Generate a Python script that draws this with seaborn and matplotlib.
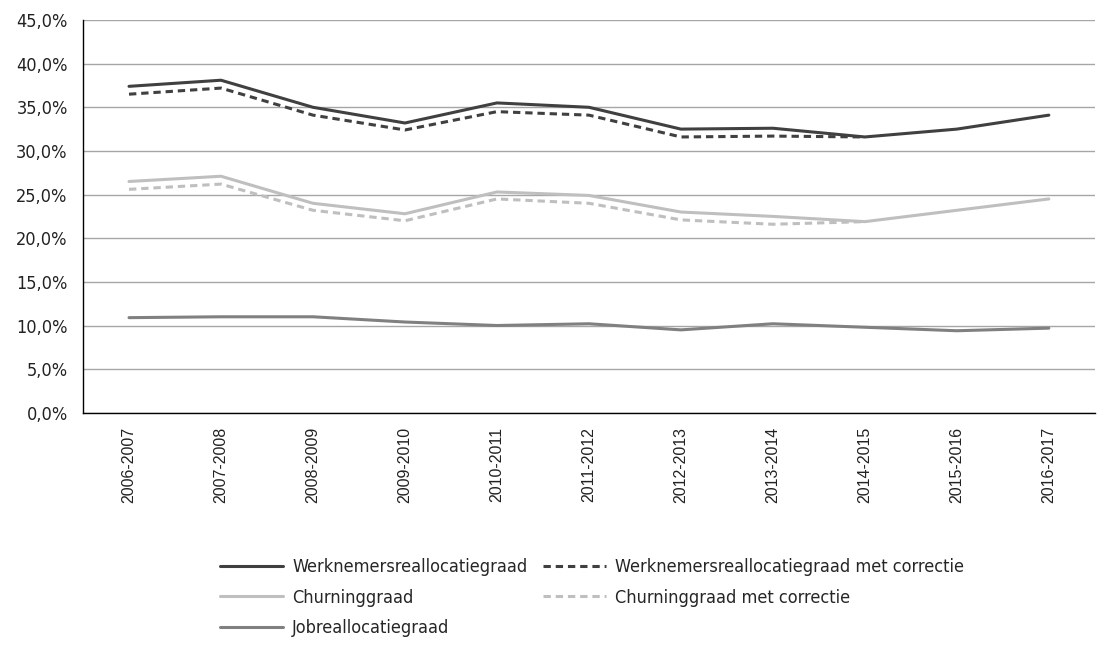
import numpy as np
import pandas as pd
import matplotlib
matplotlib.use("Agg")
import matplotlib.pyplot as plt
from matplotlib.ticker import FuncFormatter, MultipleLocator, FixedLocator
import seaborn as sns

periods = ["2006-2007", "2007-2008", "2008-2009", "2009-2010", "2010-2011",
           "2011-2012", "2012-2013", "2013-2014", "2014-2015", "2015-2016",
           "2016-2017"]

werknemers = [37.4, 38.1, 35.0, 33.2, 35.5, 35.0, 32.5, 32.6, 31.6, 32.5, 34.1]
werknemers_corr = [36.5, 37.2, 34.1, 32.4, 34.5, 34.1, 31.6, 31.7, 31.6, None, None]
churning = [26.5, 27.1, 24.0, 22.8, 25.3, 24.9, 23.0, 22.5, 21.9, 23.2, 24.5]
churning_corr = [25.6, 26.2, 23.2, 22.0, 24.5, 24.0, 22.1, 21.6, 21.9, None, None]
job = [10.9, 11.0, 11.0, 10.4, 10.0, 10.2, 9.5, 10.2, 9.8, 9.4, 9.7]

series = [
    ("Werknemersreallocatiegraad", werknemers, "#404040", "-"),
    ("Werknemersreallocatiegraad met correctie", werknemers_corr, "#404040", "--"),
    ("Churninggraad", churning, "#bfbfbf", "-"),
    ("Churninggraad met correctie", churning_corr, "#bfbfbf", "--"),
    ("Jobreallocatiegraad", job, "#808080", "-"),
]

sns.set_style("white")
plt.rcParams["font.family"] = ["DejaVu Sans"]
plt.rcParams["font.stretch"] = "condensed"

fig = plt.figure(figsize=(11.07, 6.45), dpi=100)
ax = fig.add_axes([0.075, 0.360, 0.914, 0.609])

pos = np.arange(len(periods))
lines = {}
for name, vals, color, ls in series:
    df = pd.DataFrame({"x": pos, "y": np.array(vals, dtype=float)})
    sns.lineplot(data=df, x="x", y="y", ax=ax, color=color, linestyle="-",
                 linewidth=2.2, label=name)
    ln = ax.get_lines()[-1]
    if ls == "--":
        ln.set_dashes((2.4, 1.6))
    lines[name] = ln

ax.set_xlim(-0.5, len(periods) - 0.5)
ax.set_ylim(0, 45)
ax.yaxis.set_major_locator(MultipleLocator(5))
ax.yaxis.set_major_formatter(FuncFormatter(lambda v, _: f"{v:.1f}%".replace(".", ",")))
ax.grid(axis="y", color="#a6a6a6", linewidth=1.0)
ax.set_axisbelow(True)

ax.set_xticks(pos)
ax.set_xticklabels(periods, rotation=90)
for lbl in ax.get_xticklabels():
    lbl.set_fontfamily(["Liberation Sans", "DejaVu Sans"])
    lbl.set_fontstretch("normal")
ax.xaxis.set_minor_locator(FixedLocator(np.arange(-0.5, len(periods), 1.0)))
ax.tick_params(axis="x", which="major", length=0, pad=10, labelsize=11.5, labelcolor="#222222")
ax.tick_params(axis="x", which="minor", length=7, width=1, color="black", direction="out")
ax.tick_params(axis="y", which="major", length=7, width=1, color="black", direction="out",
               labelsize=13, labelcolor="#222222", pad=4)
ax.set_xlabel("")
ax.set_ylabel("")

for s in ["top", "right"]:
    ax.spines[s].set_visible(False)
for s in ["left", "bottom"]:
    ax.spines[s].set_color("black")
    ax.spines[s].set_linewidth(1.0)

ax.get_legend().remove()
order = ["Werknemersreallocatiegraad", "Churninggraad", "Jobreallocatiegraad",
         "Werknemersreallocatiegraad met correctie", "Churninggraad met correctie"]
fig.legend([lines[n] for n in order], order, ncol=2, loc="upper left",
           bbox_to_anchor=(0.1987, 0.135), frameon=False, fontsize=13,
           handlelength=3.5, handletextpad=0.5, columnspacing=0.85,
           labelspacing=0.70, borderpad=0, borderaxespad=0)

fig.savefig("out.png", dpi=100)
